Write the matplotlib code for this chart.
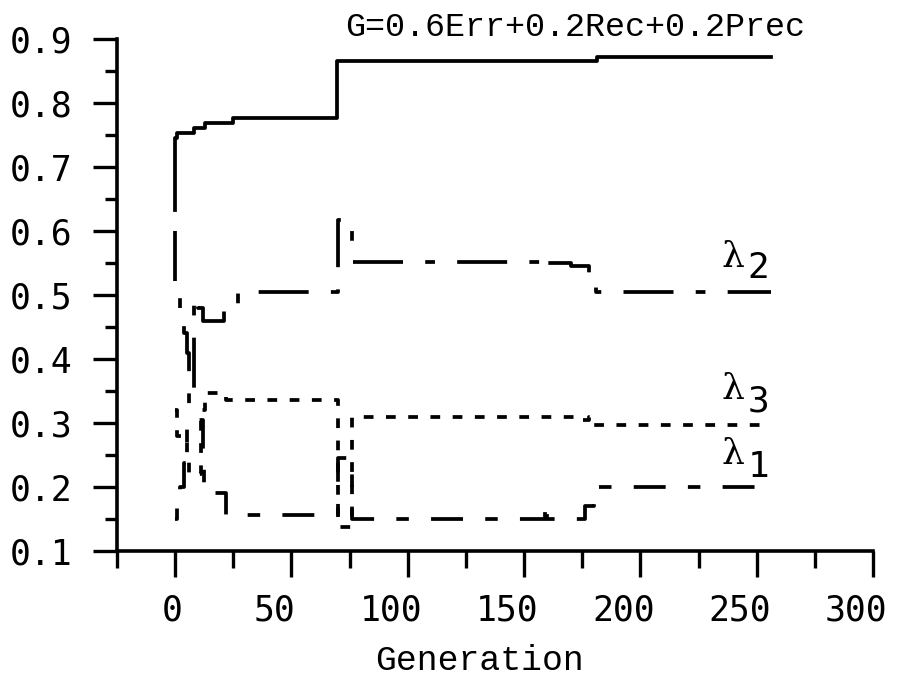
import matplotlib
matplotlib.use("Agg")
import matplotlib.pyplot as plt
from matplotlib.ticker import MultipleLocator

# G = 0.6Err + 0.2Rec + 0.2Prec, best value per generation
gen_G = [0, 0, 1, 8, 13, 25, 69.5, 181.5, 256]
G = [0.633, 0.745, 0.753, 0.761, 0.769, 0.776, 0.866, 0.872, 0.872]

# weights lambda1, lambda2, lambda3
gen_l1 = [0, 1, 2, 4, 5, 12, 12.5, 22, 70, 76, 159, 160, 176, 180, 256]
l1 = [0.15, 0.175, 0.2, 0.237, 0.305, 0.23, 0.19, 0.157, 0.245, 0.15, 0.175, 0.15, 0.17, 0.2, 0.2]

gen_l2 = [0, 0, 1, 2, 4, 5, 6, 8, 10, 12, 21, 27, 70, 76, 157, 160, 170, 178, 181, 256]
l2 = [0.6, 0.5, 0.5, 0.47, 0.44, 0.41, 0.33, 0.497, 0.48, 0.46, 0.48, 0.505, 0.617, 0.551,
      0.54, 0.55, 0.545, 0.53, 0.505, 0.505]

gen_l3 = [0, 1, 5, 6, 11, 13, 16, 22, 70, 76, 172, 178, 180, 256]
l3 = [0.32, 0.28, 0.25, 0.22, 0.32, 0.347, 0.347, 0.336, 0.138, 0.31, 0.305, 0.31, 0.297, 0.297]

xticks = [0, 50, 100, 150, 200, 250, 300]
xtick_labels = ["0", "50", "100", "150", "200", "250", "300"]
yticks = [0.1, 0.2, 0.3, 0.4, 0.5, 0.6, 0.7, 0.8, 0.9]
ytick_labels = ["0.1", "0.2", "0.3", "0.4", "0.5", "0.6", "0.7", "0.8", "0.9"]

plt.rcParams["lines.scale_dashes"] = False
plt.rcParams["font.family"] = ["DejaVu Sans Mono", "DejaVu Sans"]

fig = plt.figure(figsize=(8.98, 6.77), dpi=100)
ax = fig.add_axes([117 / 898, 1 - 551 / 677, 756 / 898, 512 / 677])

lw = 2.7
ax.plot(gen_G, G, color="black", lw=lw, drawstyle="steps-post")
ax.plot(gen_l1, l1, color="black", lw=lw, drawstyle="steps-post", dashes=(9, 16, 23, 16))
ax.plot(gen_l2, l2, color="black", lw=lw, drawstyle="steps-post", dashes=(36, 16, 7, 16))
ax.plot(gen_l3, l3, color="black", lw=lw, drawstyle="steps-post", dashes=(7, 9))

ax.set_xlim(-25, 300)
ax.set_ylim(0.1, 0.9)
ax.set_xticks(xticks)
ax.set_xticklabels([])
ax.xaxis.set_minor_locator(MultipleLocator(25))
ax.set_yticks(yticks)
ax.set_yticklabels(ytick_labels)
ax.yaxis.set_minor_locator(MultipleLocator(0.05))

for s in ["top", "right"]:
    ax.spines[s].set_visible(False)
for s in ["left", "bottom"]:
    ax.spines[s].set_linewidth(2.6)

ax.tick_params(axis="y", which="major", direction="out", length=17, width=2.4, pad=15, labelsize=25)
ax.tick_params(axis="y", which="minor", direction="out", length=8.5, width=2.4)
ax.tick_params(axis="x", which="major", direction="out", length=19, width=2.4)
ax.tick_params(axis="x", which="minor", direction="out", length=12, width=2.4)

# x tick labels sit a bit left of their ticks in the original
xform = ax.get_xaxis_transform()
for t, lab in zip(xticks, xtick_labels):
    shift = 1.3 if len(lab) == 1 else 7.3
    ax.text(t - shift, -0.117, lab, transform=xform, fontsize=25, ha="center", va="center",
            clip_on=False)

ax.set_xlabel("Generation", fontsize=25, family=["Liberation Mono", "DejaVu Sans Mono"])
ax.xaxis.set_label_coords((479.5 - 117) / 756, -(661 - 551) / 512)
ax.xaxis.label.set_va("center")

ax.text(73, 0.918, "G=0.6Err+0.2Rec+0.2Prec", fontsize=24, va="center", ha="left",
        family=["Liberation Mono", "DejaVu Sans Mono"], clip_on=False)

labels = [("\u03bb", "2", 0.56, 0.542), ("\u03bb", "3", 0.353, 0.333), ("\u03bb", "1", 0.252, 0.231)]
for lam, sub, ylam, ysub in labels:
    ax.text(235, ylam, lam, fontsize=26, va="center", ha="left", family="DejaVu Serif")
    ax.text(246, ysub, sub, fontsize=26, va="center", ha="left", family="DejaVu Sans Mono")

fig.savefig("out.png", dpi=100)
